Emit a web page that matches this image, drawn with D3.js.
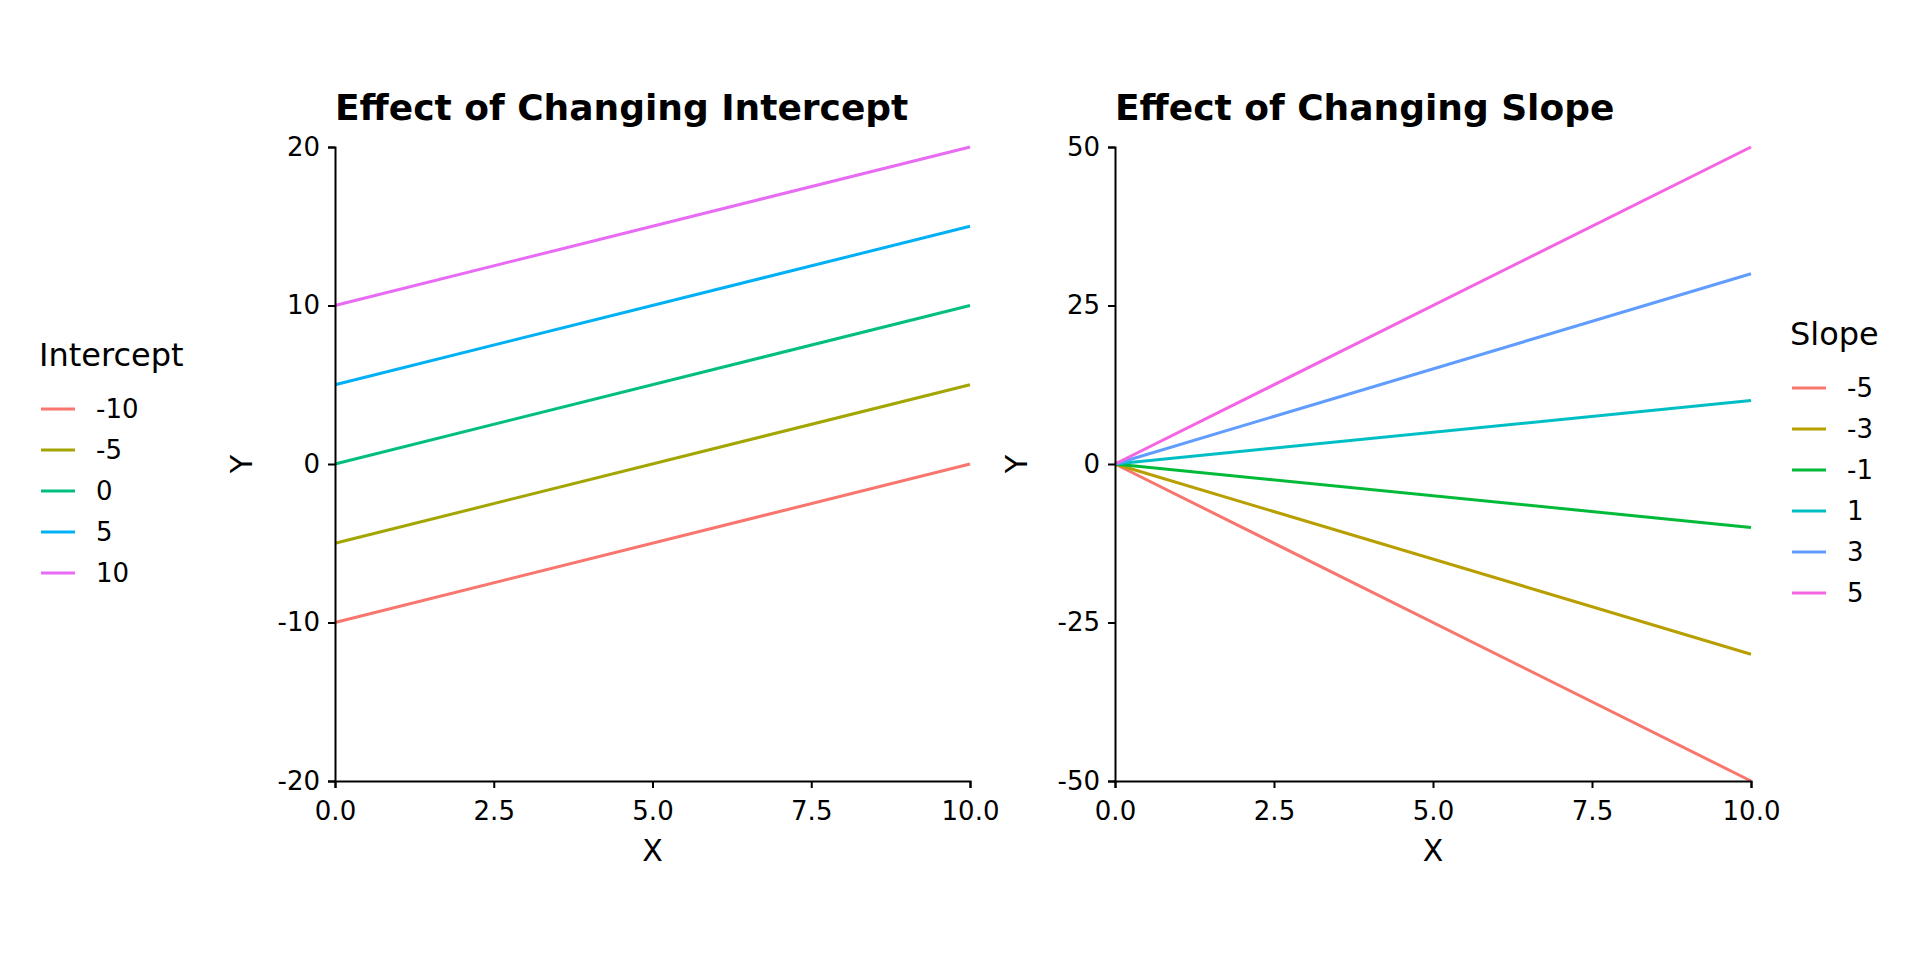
<!DOCTYPE html>
<html>
<head>
<meta charset="utf-8">
<script src="https://cdn.jsdelivr.net/npm/d3@7"></script>
<style>
  body { margin: 0; background: #fff; }
  svg text { font-family: "DejaVu Sans", sans-serif; fill: #000; }
</style>
</head>
<body>
<div id="chart"></div>
<script>
// data
var xEnds = [0, 10];
var xTicks = [0, 2.5, 5, 7.5, 10];

var intercepts = ["-10", "-5", "0", "5", "10"];
var interceptStart = [-10, -5, 0, 5, 10];
var interceptEnd = [0, 5, 10, 15, 20];
var interceptColors = ["#F8766D", "#A3A500", "#00BF7D", "#00B0F6", "#E76BF3"];
var interceptYTicks = [-20, -10, 0, 10, 20];

var slopes = ["-5", "-3", "-1", "1", "3", "5"];
var slopeStart = [0, 0, 0, 0, 0, 0];
var slopeEnd = [-50, -30, -10, 10, 30, 50];
var slopeColors = ["#F8766D", "#B79F00", "#00BA38", "#00BFC4", "#619CFF", "#F564E3"];
var slopeYTicks = [-50, -25, 0, 25, 50];

var svg = d3.select("#chart").append("svg")
  .attr("width", 1920)
  .attr("height", 960);

function panel(opt) {
  var x = d3.scaleLinear().domain([0, 10]).range([opt.left, opt.right]);
  var y = d3.scaleLinear().domain(opt.yDomain).range([781, 147]);
  var g = svg.append("g");

  var line = d3.line().x(function (d) { return x(d[0]); }).y(function (d) { return y(d[1]); });

  opt.names.forEach(function (n, i) {
    g.append("path")
      .datum([[xEnds[0], opt.start[i]], [xEnds[1], opt.end[i]]])
      .attr("fill", "none")
      .attr("stroke", opt.colors[i])
      .attr("stroke-width", 3)
      .attr("d", line);
  });

  var xAxis = g.append("g")
    .attr("transform", "translate(0," + y(opt.yDomain[0]) + ")")
    .call(d3.axisBottom(x).tickValues(xTicks).tickSize(7).tickPadding(14)
      .tickFormat(function (d) { return d.toFixed(1); }));
  var yAxis = g.append("g")
    .attr("transform", "translate(" + x(0) + ",0)")
    .call(d3.axisLeft(y).tickValues(opt.yTicks).tickSize(7).tickPadding(8)
      .tickFormat(function (d) { return String(d); }));
  [xAxis, yAxis].forEach(function (a) {
    a.select(".domain").attr("stroke", "#000").attr("stroke-width", 2);
    a.selectAll(".tick line").attr("stroke", "#000").attr("stroke-width", 2);
    a.selectAll(".tick text").attr("font-size", 26).style("font-family", "DejaVu Sans, sans-serif");
  });

  g.append("text")
    .attr("x", opt.left).attr("y", 120)
    .attr("font-size", 36).attr("font-weight", "bold")
    .text(opt.title);

  g.append("text")
    .attr("x", (opt.left + opt.right) / 2).attr("y", 861)
    .attr("text-anchor", "middle").attr("font-size", 30)
    .text("X");

  g.append("text")
    .attr("transform", "translate(" + opt.yLabelX + ",464) rotate(-90)")
    .attr("text-anchor", "middle").attr("font-size", 30)
    .text("Y");

  // legend
  var lg = g.append("g");
  lg.append("text")
    .attr("x", opt.legX).attr("y", opt.legY)
    .attr("font-size", 32)
    .text(opt.legTitle);
  opt.names.forEach(function (n, i) {
    var cy = opt.legY + 43 + i * 41;
    lg.append("line")
      .attr("x1", opt.legX + 2).attr("x2", opt.legX + 36)
      .attr("y1", cy).attr("y2", cy)
      .attr("stroke", opt.colors[i]).attr("stroke-width", 3);
    lg.append("text")
      .attr("x", opt.legX + 57).attr("y", cy)
      .attr("dy", "0.36em").attr("font-size", 26)
      .text(n);
  });
}

panel({
  left: 335, right: 970, yDomain: [-20, 20], yTicks: interceptYTicks,
  names: intercepts, start: interceptStart, end: interceptEnd, colors: interceptColors,
  title: "Effect of Changing Intercept", yLabelX: 252,
  legTitle: "Intercept", legX: 39, legY: 366
});

panel({
  left: 1115, right: 1751, yDomain: [-50, 50], yTicks: slopeYTicks,
  names: slopes, start: slopeStart, end: slopeEnd, colors: slopeColors,
  title: "Effect of Changing Slope", yLabelX: 1027,
  legTitle: "Slope", legX: 1790, legY: 345
});
</script>
</body>
</html>
